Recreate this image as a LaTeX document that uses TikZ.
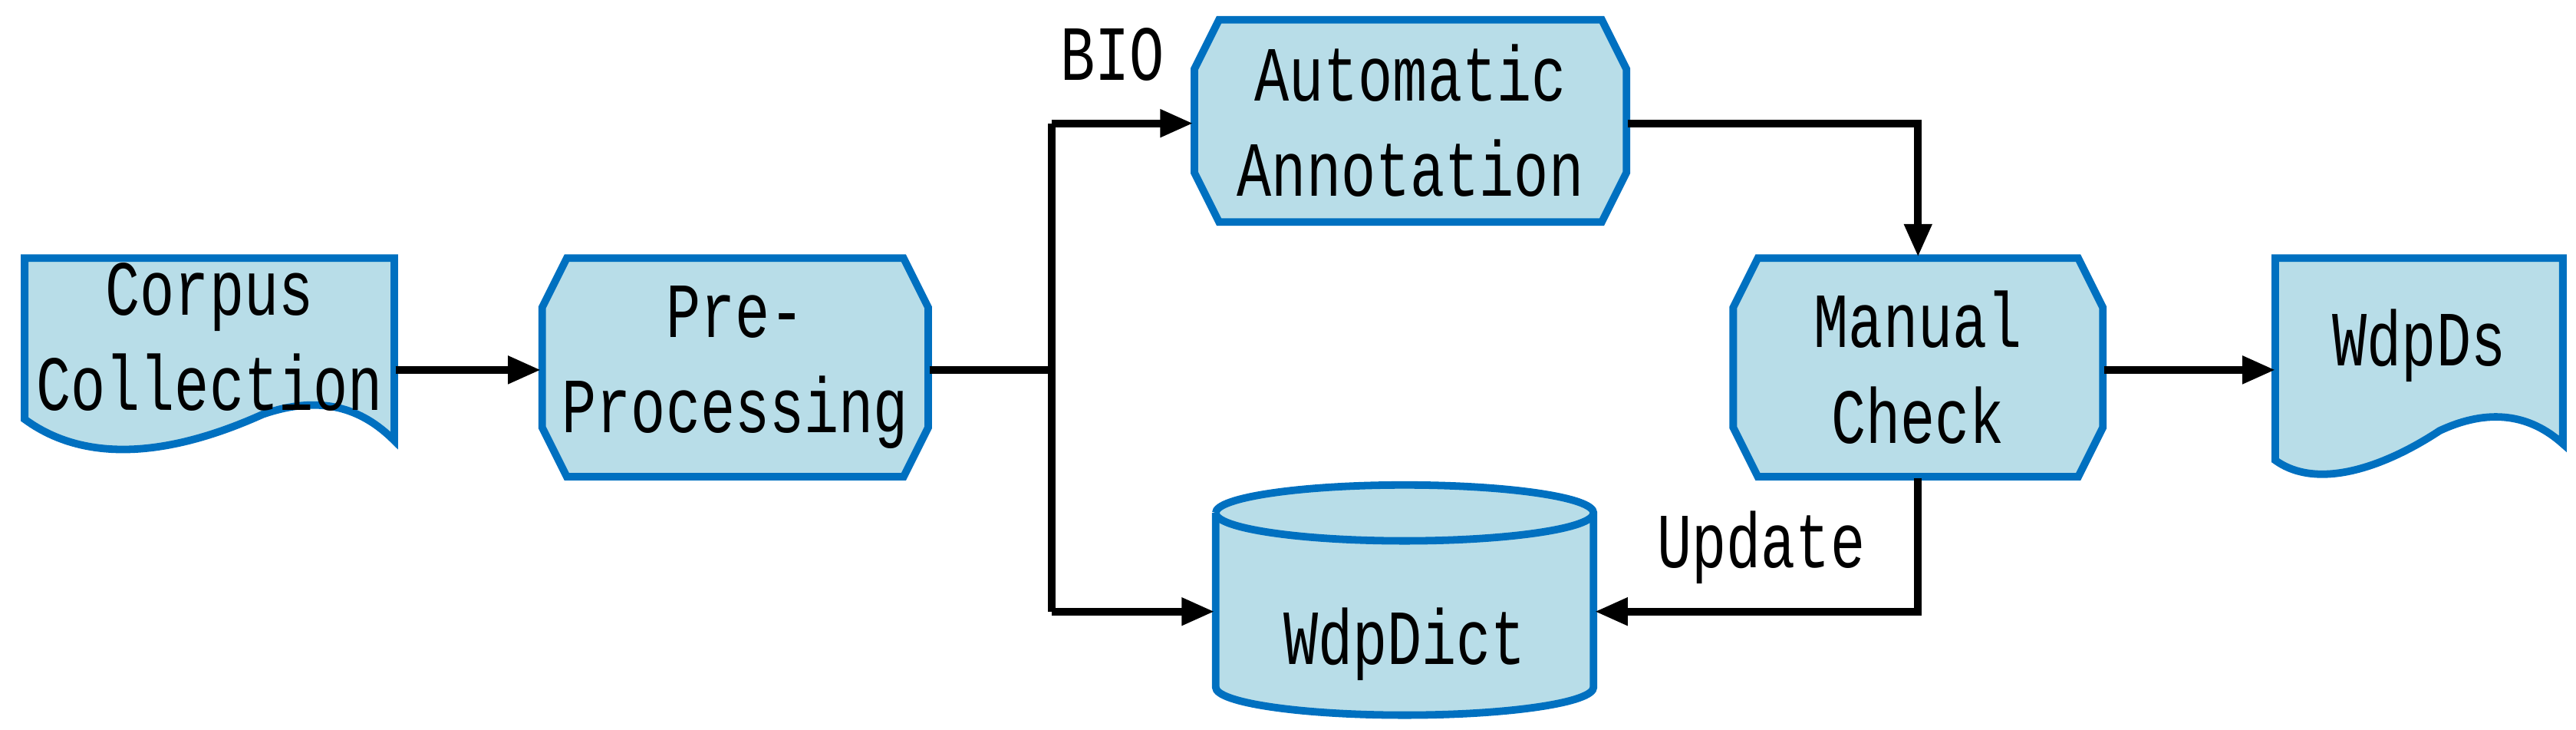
\documentclass[tikz,border=0pt]{standalone}
\usepackage{fontspec}
\newfontfamily\dfont{Liberation Mono}[FakeStretch=0.74]
\usetikzlibrary{arrows.meta,calc}
\definecolor{bfill}{HTML}{B8DDE8}
\definecolor{bline}{HTML}{0070C0}
\newcommand{\myoct}[4]{\draw[shp] (#1+15,#2) -- (#3-15,#2) -- (#3,#2+30) -- (#3,#4-30) -- (#3-15,#4) -- (#1+15,#4) -- (#1,#4-30) -- (#1,#2+30) -- cycle;}
\begin{document}
\begin{tikzpicture}[x=0.01cm,y=-0.01cm,
  txt/.style={font=\dfont\fontsize{13.5}{16.5}\selectfont,align=center},
  shp/.style={draw=bline,fill=bfill,line width=1.3pt},
  ghost/.style={txt,inner sep=0pt,rectangle},
  con/.style={line width=1.3pt,-{Triangle[length=0.2cm,width=0.16cm]}},
  ln/.style={line width=1.3pt}]
\useasboundingbox (0,0) rectangle (1568,444);
% document shapes
\draw[shp] (15,157) -- (240,157) -- (240,268) .. controls (220,248) and (195,240) .. (160,252)
  .. controls (120,270) and (60,288) .. (15,255) -- cycle;
\node[ghost,minimum width=2.25cm,minimum height=1.0cm] (cc) at (127.5,205) {Corpus\\Collection};
\draw[shp] (1385,157) -- (1560,157) -- (1560,270) .. controls (1540,252) and (1515,248) .. (1485,262)
  .. controls (1450,285) and (1410,298) .. (1385,280) -- cycle;
\node[ghost,minimum width=1.75cm,minimum height=1.0cm] (ds) at (1472.5,210) {WdpDs};
% octagons
\myoct{330}{157}{565}{290}
\node[ghost,minimum width=2.35cm,minimum height=1.33cm] (pre) at (447.5,223.5) {Pre-\\Processing};
\myoct{727}{12}{990}{135}
\node[ghost,minimum width=2.63cm,minimum height=1.23cm] (auto) at (858.5,73.5) {Automatic\\Annotation};
\myoct{1055}{157}{1280}{290}
\node[ghost,minimum width=2.25cm,minimum height=1.33cm] (man) at (1167.5,223.5) {Manual\\Check};
% cylinder
\draw[shp] (740,312) -- (740,418) arc[start angle=180,end angle=0,x radius=115,y radius=17]
  -- (970,312) arc[start angle=0,end angle=-180,x radius=115,y radius=17];
\draw[shp] (740,312) arc[start angle=180,end angle=0,x radius=115,y radius=17];
\node[ghost,minimum width=2.3cm,minimum height=1.0cm] (dict) at (855,372) {};
\node[txt] at (855,392) {WdpDict};
% connectors
\coordinate (j) at (640,225);
\coordinate (jt) at (640,75);
\coordinate (jb) at (640,372);
\coordinate (m1) at (1167.5,75);
\coordinate (m2) at (1167.5,372);
\draw[con] (cc.east |- 0,225) -- (pre.west |- 0,225);
\draw[ln] (pre.east |- j) -- (j);
\draw[ln] (jt) -- (jb);
\draw[con] (jt) -- (auto.west |- jt);
\draw[con] (jb) -- (dict.west);
\draw[con] (auto.east |- m1) -- (m1) -- (man.north);
\draw[con] (man.south) -- (m2) -- (dict.east);
\draw[con] (man.east |- 0,225) -- (1385,225);
\node[txt] (bio) at (677,33) {BIO};
\node[txt] (upd) at (1072,333) {Update};
\end{tikzpicture}
\end{document}
